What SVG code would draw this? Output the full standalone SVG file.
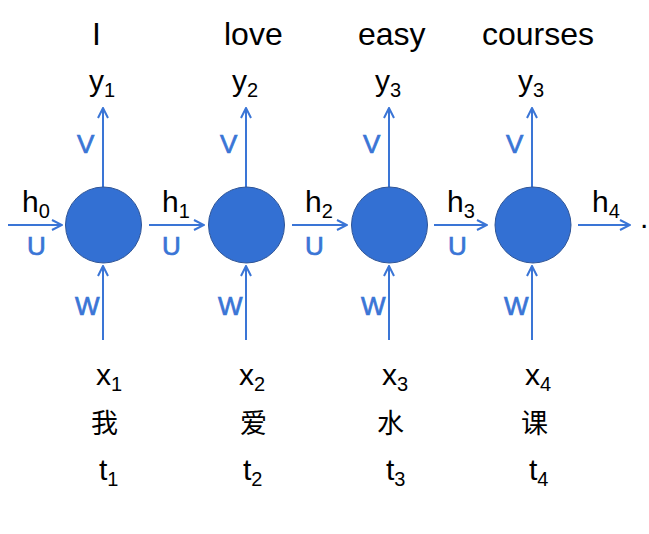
<svg xmlns="http://www.w3.org/2000/svg" width="649" height="534" viewBox="0 0 649 534">
<style>
.t{font-family:"Liberation Sans",Arial,sans-serif;fill:#000;font-size:30px}
.w{font-family:"Liberation Sans",Arial,sans-serif;fill:#000;font-size:32px}
.s{font-size:20px}
.b{font-family:"Liberation Sans",Arial,sans-serif;fill:#3A75D6;stroke:#3A75D6;stroke-width:0.7;font-size:26px}
.c{font-family:"Liberation Sans","Noto Sans CJK SC",sans-serif;fill:#000;font-size:27px}
.n{fill:#3370D3;stroke:#2F5597;stroke-width:1}
.a{stroke:#3A75D6;stroke-width:2;fill:none;marker-end:url(#ah)}
</style>
<defs>
<marker id="ah" viewBox="0 0 12 12" refX="11" refY="6" markerWidth="12" markerHeight="12" markerUnits="userSpaceOnUse" orient="auto">
<path d="M1,1 L11,6 L1,11" fill="none" stroke="#3A75D6" stroke-width="2"/>
</marker>
</defs>
<rect width="649" height="534" fill="#fff"/>
<g id="connectors">
<line class="a" x1="103" y1="187" x2="103" y2="108"/>
<line class="a" x1="246" y1="187" x2="246" y2="108"/>
<line class="a" x1="389" y1="187" x2="389" y2="108"/>
<line class="a" x1="532" y1="187" x2="532" y2="108"/>
<line class="a" x1="103" y1="340" x2="103" y2="266"/>
<line class="a" x1="246" y1="340" x2="246" y2="266"/>
<line class="a" x1="389" y1="340" x2="389" y2="266"/>
<line class="a" x1="532" y1="340" x2="532" y2="266"/>
<line class="a" x1="8" y1="225" x2="62" y2="225"/>
<line class="a" x1="149" y1="225" x2="204" y2="225"/>
<line class="a" x1="292" y1="225" x2="347" y2="225"/>
<line class="a" x1="434" y1="225" x2="487" y2="225"/>
<line class="a" x1="578" y1="225" x2="630" y2="225"/>
</g>
<g id="node1"><circle class="n" cx="103.5" cy="225" r="38"/></g>
<g id="node2"><circle class="n" cx="246.5" cy="225" r="38"/></g>
<g id="node3"><circle class="n" cx="389.5" cy="225" r="38"/></g>
<g id="node4"><circle class="n" cx="533" cy="225" r="38"/></g>
<g id="labels">
<text class="w" x="92" y="45">I</text>
<text class="w" x="224" y="45">love</text>
<text class="w" x="358" y="45">easy</text>
<text class="w" x="482" y="45">courses</text>
<text class="t" x="89" y="91">y<tspan class="s" dy="6">1</tspan></text>
<text class="t" x="232" y="91">y<tspan class="s" dy="6">2</tspan></text>
<text class="t" x="375" y="91">y<tspan class="s" dy="6">3</tspan></text>
<text class="t" x="518" y="91">y<tspan class="s" dy="6">3</tspan></text>
<text class="b" x="77" y="153">V</text>
<text class="b" x="220" y="153">V</text>
<text class="b" x="363" y="153">V</text>
<text class="b" x="506" y="153">V</text>
<text class="b" x="27" y="255">U</text>
<text class="b" x="162" y="255">U</text>
<text class="b" x="305" y="255">U</text>
<text class="b" x="448" y="255">U</text>
<text class="b" x="75" y="315">W</text>
<text class="b" x="218" y="315">W</text>
<text class="b" x="361" y="315">W</text>
<text class="b" x="504" y="315">W</text>
<text class="t" x="22" y="212">h<tspan class="s" dy="6">0</tspan></text>
<text class="t" x="162" y="212">h<tspan class="s" dy="6">1</tspan></text>
<text class="t" x="305" y="212">h<tspan class="s" dy="6">2</tspan></text>
<text class="t" x="447" y="212">h<tspan class="s" dy="6">3</tspan></text>
<text class="t" x="592" y="212">h<tspan class="s" dy="6">4</tspan></text>
<text class="t" x="640" y="228">.</text>
<text class="t" x="96" y="385">x<tspan class="s" dy="6">1</tspan></text>
<text class="t" x="239" y="385">x<tspan class="s" dy="6">2</tspan></text>
<text class="t" x="382" y="385">x<tspan class="s" dy="6">3</tspan></text>
<text class="t" x="525" y="385">x<tspan class="s" dy="6">4</tspan></text>
<text class="c" x="91" y="433">我</text>
<text class="c" x="240" y="433">爱</text>
<text class="c" x="377" y="433">水</text>
<text class="c" x="521" y="433">课</text>
<text class="t" x="99" y="480">t<tspan class="s" dy="6">1</tspan></text>
<text class="t" x="243" y="480">t<tspan class="s" dy="6">2</tspan></text>
<text class="t" x="386" y="480">t<tspan class="s" dy="6">3</tspan></text>
<text class="t" x="529" y="480">t<tspan class="s" dy="6">4</tspan></text>
</g>
</svg>
